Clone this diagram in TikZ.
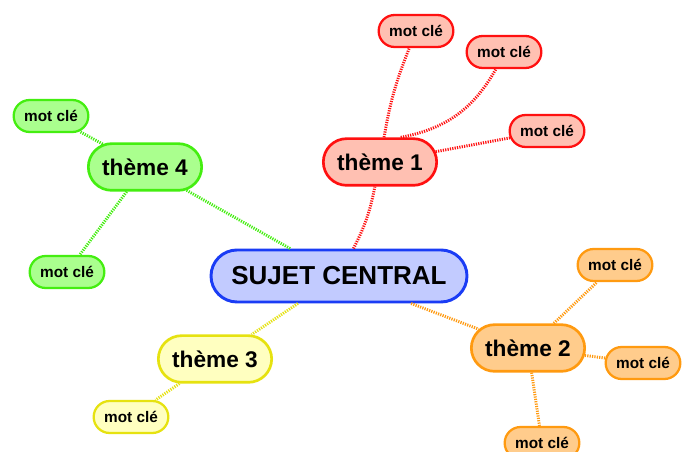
\documentclass[tikz,border=0pt]{standalone}
\usepackage{fontspec}
\setmainfont{Liberation Sans}
\usetikzlibrary{shapes.misc}
\definecolor{bleuB}{HTML}{1A3CF5}
\definecolor{bleuF}{HTML}{C2CBFF}
\definecolor{rougeB}{HTML}{FF1010}
\definecolor{rougeF}{HTML}{FFC0B2}
\definecolor{orangeB}{HTML}{FF9A10}
\definecolor{orangeF}{HTML}{FFCC8C}
\definecolor{jauneB}{HTML}{E6E210}
\definecolor{jauneF}{HTML}{FFFFC0}
\definecolor{vertB}{HTML}{44EE10}
\definecolor{vertF}{HTML}{AAFF8E}
\begin{document}
\begin{tikzpicture}[x=0.75pt, y=-0.75pt,
  bulle/.style={rounded rectangle, draw, inner sep=0pt},
  sujet/.style={bulle, line width=2.2pt, minimum width=192pt, minimum height=39pt,
    font=\bfseries\fontsize{19.5}{22}\selectfont},
  theme/.style={bulle, line width=2pt, minimum width=85pt, minimum height=35pt,
    font=\bfseries\fontsize{17}{19}\selectfont},
  motcle/.style={bulle, line width=1.7pt, minimum width=56pt, minimum height=24pt,
    font=\bfseries\fontsize{11.5}{13}\selectfont},
  lien/.style={line width=2.2pt, dash pattern=on 0.9pt off 0.9pt}]
\clip (0,0) rectangle (687,452);
\fill[white] (0,0) rectangle (687,452);

\node[sujet, draw=bleuB, fill=bleuF] (centre) at (339,276) {SUJET CENTRAL};

% theme 1
\node[theme, draw=rougeB, fill=rougeF] (t1) at (380,162) {thème 1};
\node[motcle, draw=rougeB, fill=rougeF] (k1a) at (416,31) {mot clé};
\node[motcle, draw=rougeB, fill=rougeF] (k1b) at (504,52) {mot clé};
\node[motcle, draw=rougeB, fill=rougeF] (k1c) at (547,131) {mot clé};
\draw[lien, rougeB] (centre) to[bend right=8] (t1);
\draw[lien, rougeB] (t1) to[bend left=6] (k1a);
\draw[lien, rougeB] (t1.50) to[bend right=25] (k1b);
\draw[lien, rougeB] (t1) -- (k1c);

% theme 2
\node[theme, draw=orangeB, fill=orangeF] (t2) at (528,348) {thème 2};
\node[motcle, draw=orangeB, fill=orangeF] (k2a) at (615,265) {mot clé};
\node[motcle, draw=orangeB, fill=orangeF] (k2b) at (643,363) {mot clé};
\node[motcle, draw=orangeB, fill=orangeF] (k2c) at (542,443) {mot clé};
\draw[lien, orangeB] (centre) -- (t2);
\draw[lien, orangeB] (t2) -- (k2a);
\draw[lien, orangeB] (t2) -- (k2b);
\draw[lien, orangeB] (t2) -- (k2c);

% theme 3
\node[theme, draw=jauneB, fill=jauneF] (t3) at (215,359) {thème 3};
\node[motcle, draw=jauneB, fill=jauneF] (k3a) at (131,417) {mot clé};
\draw[lien, jauneB] (centre) -- (t3);
\draw[lien, jauneB] (t3) -- (k3a);

% theme 4
\node[theme, draw=vertB, fill=vertF] (t4) at (145,167) {thème 4};
\node[motcle, draw=vertB, fill=vertF] (k4a) at (51,116) {mot clé};
\node[motcle, draw=vertB, fill=vertF] (k4b) at (67,272) {mot clé};
\draw[lien, vertB] (centre) -- (t4);
\draw[lien, vertB] (t4) -- (k4a);
\draw[lien, vertB] (t4) -- (k4b);
\end{tikzpicture}
\end{document}
